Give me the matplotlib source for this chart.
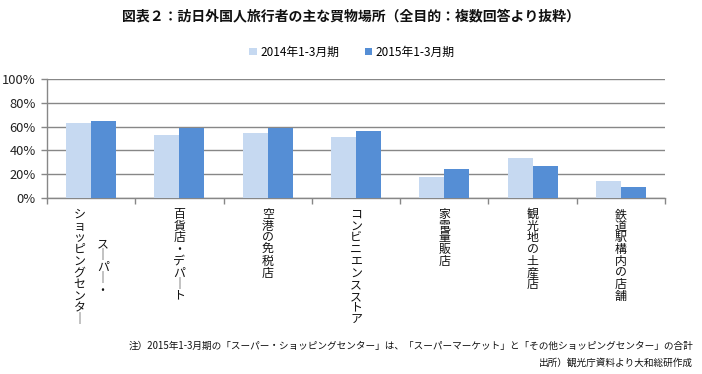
import numpy as np
import matplotlib
matplotlib.use("Agg")
import matplotlib.pyplot as plt

plt.rcParams['font.family'] = ['Noto Sans CJK JP', 'DejaVu Sans']

# data
labels = [
    ["スーパー・", "ショッピングセンター"],
    ["百貨店・デパート"],
    ["空港の免税店"],
    ["コンビニエンスストア"],
    ["家電量販店"],
    ["観光地の土産店"],
    ["鉄道駅構内の店舗"],
]
vals_2014 = [62.8, 52.7, 54.4, 51.0, 17.6, 33.5, 14.2]
vals_2015 = [64.4, 58.6, 58.6, 56.0, 24.3, 26.8, 9.2]
series_names = ["2014年1-3月期", "2015年1-3月期"]
yticks = [0, 20, 40, 60, 80, 100]

light = "#C6D9F1"
dark = "#558ED5"
grid_c = "#878787"

W, H = 702, 374
fig = plt.figure(figsize=(W / 100, H / 100), dpi=100)
ax = fig.add_axes([47 / W, 1 - 198 / H, (665 - 47) / W, (198 - 79) / H])

x = np.arange(len(labels))
bw = 0.283
ax.bar(x - bw / 2, vals_2014, bw, color=light, label=series_names[0], zorder=3)
ax.bar(x + bw / 2, vals_2015, bw, color=dark, label=series_names[1], zorder=3)

ax.set_xlim(-0.5, len(labels) - 0.5)
ax.set_ylim(0, 100)
ax.set_yticks(yticks)
ax.set_yticklabels([f"{v}%" for v in yticks], fontsize=9.3, color="#222222")
ax.yaxis.grid(True, color=grid_c, lw=1)
ax.set_axisbelow(True)
for s in ["top", "right"]:
    ax.spines[s].set_visible(False)
for s in ["left", "bottom"]:
    ax.spines[s].set_color(grid_c)
    ax.spines[s].set_linewidth(1)
ax.tick_params(axis="y", length=4, color=grid_c, width=1, pad=4)

# category ticks on boundaries
ax.set_xticks(np.arange(len(labels) + 1) - 0.5)
ax.set_xticklabels([])
ax.tick_params(axis="x", length=4, color=grid_c, width=1)

# vertical (tategaki) category labels, one glyph per step
step = 11.7 * 0.72  # px -> pt
col_gap = 23 * 0.72
top_off = 10 * 0.72
for i, cols in enumerate(labels):
    n = len(cols)
    longest = max(len(c) for c in cols)
    for j, col in enumerate(cols):
        dx = ((n - 1) / 2 - j) * col_gap
        start = top_off + (longest - len(col)) * step / 2
        for k, ch in enumerate(col):
            if ch == "ー":
                ch = "｜"
            ax.annotate(ch, xy=(i, 0), xycoords=("data", "axes fraction"),
                        xytext=(dx, -start - k * step), textcoords="offset points",
                        ha="center", va="top", fontsize=8.6, color="#111111")

fig.text(351 / W, 1 - 16 / H,
         "図表２：訪日外国人旅行者の主な買物場所（全目的：複数回答より抜粋）",
         ha="center", va="center", fontsize=10, fontweight="bold", color="#111111")

fig.legend(loc="center", bbox_to_anchor=(352 / W, 1 - 52 / H), ncol=2,
           frameon=False, fontsize=8.5, handlelength=0.6, handleheight=0.6,
           handletextpad=0.3, columnspacing=2.2)

fig.text(693 / W, 1 - 346 / H,
         "注）2015年1-3月期の「スーパー・ショッピングセンター」は、「スーパーマーケット」と「その他ショッピングセンター」の合計",
         ha="right", va="center", fontsize=6.95, color="#111111")
fig.text(693 / W, 1 - 363 / H, "出所）観光庁資料より大和総研作成",
         ha="right", va="center", fontsize=6.95, color="#111111")

fig.savefig("out.png", dpi=100)
